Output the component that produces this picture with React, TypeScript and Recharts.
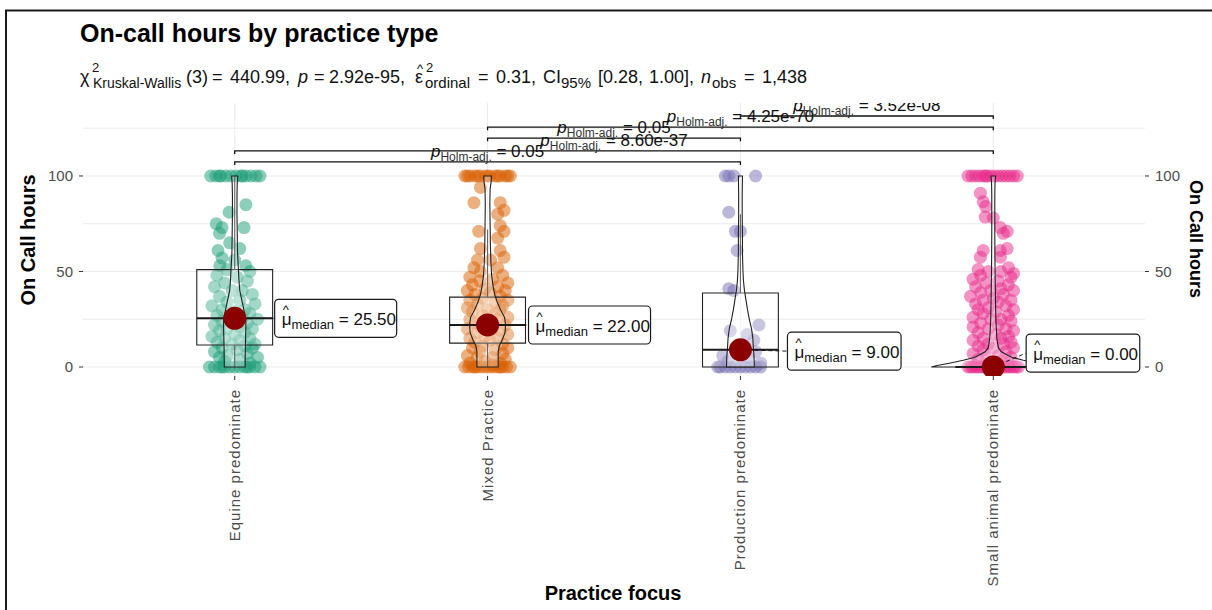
import React from "react";
import { ComposedChart, XAxis, YAxis, Scatter } from "recharts";

const FONT = "'Liberation Sans', Arial, Helvetica, sans-serif";

// ---------- data ----------
const categories = [
  "Equine predominate",
  "Mixed Practice",
  "Production predominate",
  "Small animal predominate",
];
const groupColors = ["#1B9E77", "#D95F02", "#7570B3", "#E7298A"];

// [value, jitter (x units)]
const equinePoints: [number, number][] = [
  [100, -0.095], [100, -0.075], [100, -0.055], [100, -0.035], [100, -0.015], [100, 0.005], [100, 0.025],
  [100, 0.045], [100, 0.065], [100, 0.085], [100, -0.06], [100, 0.03], [100, 0.1],
  [85, 0.044], [81, -0.022], [75, -0.073], [73, -0.05], [73, 0.037], [70, -0.06], [65, -0.02], [62, 0.02],
  [61, -0.066], [57, -0.05], [56, 0.0], [53, 0.044], [53, -0.059], [51, -0.03], [50, 0.06],
  [48, -0.07], [47, 0.01], [45, 0.05], [44, -0.04], [42, -0.08], [40, 0.03], [40, -0.01], [38, 0.07],
  [37, -0.06], [35, 0.02], [34, -0.03], [33, 0.08], [32, -0.09], [30, 0.04], [30, -0.05], [29, 0.0],
  [28, 0.06], [27, -0.07], [26, 0.03], [25, -0.02], [25, 0.09], [24, -0.05], [23, 0.05], [22, -0.08],
  [21, 0.02], [20, -0.03], [20, 0.07], [19, -0.06], [18, 0.04], [17, 0.0], [16, -0.09], [15, 0.06],
  [15, -0.04], [14, 0.02], [13, -0.07], [12, 0.08], [12, -0.01], [11, 0.04], [10, -0.05], [10, 0.07],
  [9, 0.01], [8, -0.08], [7, 0.05], [6, -0.03], [5, 0.09], [5, -0.06], [4, 0.02], [3, -0.04], [2, 0.06],
  [0, -0.1], [0, -0.08], [0, -0.06], [0, -0.04], [0, -0.02], [0, 0.0], [0, 0.02], [0, 0.04], [0, 0.06],
  [0, 0.08], [0, 0.1], [0, -0.05], [0, 0.05],
];

const mixedPoints: [number, number][] = [
  [100, -0.09], [100, -0.07], [100, -0.05], [100, -0.03], [100, -0.01], [100, 0.01], [100, 0.03],
  [100, 0.05], [100, 0.07], [100, 0.09], [100, -0.08], [100, -0.04], [100, 0.0], [100, 0.04], [100, 0.08],
  [94, -0.028], [86, -0.054], [86, 0.05], [82, 0.065], [80, 0.04], [74, 0.05], [71, -0.035], [71, 0.065],
  [67.5, 0.04], [62, -0.028], [61, 0.05], [57.5, 0.065], [56, 0.012], [56, -0.04], [52, -0.054],
  [52, 0.04], [50, -0.028],
  [48, 0.06], [47, -0.07], [46, 0.02], [45, -0.03], [44, 0.08], [43, -0.06], [42, 0.04], [41, -0.01],
  [40, 0.07], [40, -0.08], [39, 0.01], [38, -0.05], [37, 0.05], [36, -0.02], [35, 0.08], [35, -0.07],
  [34, 0.03], [33, -0.04], [32, 0.06], [31, -0.08], [30, 0.0], [30, 0.05], [29, -0.06], [28, 0.03],
  [27, -0.02], [26, 0.08], [25, -0.07], [25, 0.04], [24, 0.0], [23, -0.05], [22, 0.07], [21, -0.03],
  [20, 0.02], [20, -0.08], [19, 0.05], [18, -0.04], [17, 0.08], [16, -0.01], [15, 0.04], [15, -0.07],
  [14, 0.01], [13, -0.05], [12, 0.06], [11, -0.02], [10, 0.08], [10, -0.06], [9, 0.03], [8, -0.03],
  [7, 0.06], [6, -0.08], [5, 0.02], [5, -0.04], [4, 0.07], [3, -0.01], [2, 0.05], [2, -0.07], [1, 0.02],
  [0, -0.09], [0, -0.075], [0, -0.06], [0, -0.045], [0, -0.03], [0, -0.015], [0, 0.0], [0, 0.015],
  [0, 0.03], [0, 0.045], [0, 0.06], [0, 0.075], [0, 0.09], [0, -0.05], [0, 0.05],
];

const productionPoints: [number, number][] = [
  [100, -0.06], [100, -0.046], [100, -0.026], [100, 0.06], [81, -0.046], [71, -0.02], [71, 0.0],
  [61, -0.013], [41, -0.046], [40, -0.026], [22, 0.073], [19, -0.04], [17, 0.026], [14, 0.053],
  [10, -0.02], [8, 0.06], [6, -0.07], [5, 0.03], [3, -0.05], [2, 0.08],
  [0, -0.08], [0, -0.06], [0, -0.04], [0, -0.02], [0, 0.0], [0, 0.02], [0, 0.04], [0, 0.06], [0, 0.08],
  [0, -0.09],
];

const smallAnimalPoints: [number, number][] = [
  [100, -0.1], [100, -0.085], [100, -0.07], [100, -0.055], [100, -0.04], [100, -0.025], [100, -0.01],
  [100, 0.005], [100, 0.02], [100, 0.035], [100, 0.05], [100, 0.065], [100, 0.08], [100, 0.095],
  [100, -0.03],
  [91, -0.051], [86.5, -0.04], [84, -0.03], [78.5, -0.032], [78, 0.0], [73, 0.028], [71, 0.055],
  [70, 0.04], [61, -0.04], [61, 0.028], [62, 0.055], [57.5, -0.051], [57.5, 0.028], [52, 0.06],
  [51, -0.06], [50, -0.02], [50, 0.03], [49, 0.08],
  [48, -0.05], [47, 0.07], [46, -0.08], [45, 0.02], [44, -0.03], [43, 0.06], [42, -0.07], [41, 0.03],
  [40, -0.01], [40, 0.08], [39, -0.05], [38, 0.04], [37, -0.09], [36, 0.0], [35, 0.07], [35, -0.04],
  [34, 0.02], [33, -0.07], [32, 0.05], [31, -0.02], [30, 0.08], [30, -0.06], [29, 0.01], [28, -0.04],
  [27, 0.06], [26, -0.08], [25, 0.03], [25, -0.01], [24, 0.07], [23, -0.05], [22, 0.02], [21, -0.08],
  [20, 0.05], [20, -0.02], [19, 0.08], [18, -0.06], [17, 0.01], [16, 0.06], [15, -0.04], [15, 0.03],
  [14, -0.08], [13, 0.07], [12, -0.02], [12, 0.04], [11, -0.06], [10, 0.0], [10, 0.08], [9, -0.04],
  [8, 0.05], [7, -0.08], [6, 0.02], [5, -0.03], [5, 0.07], [4, -0.06], [3, 0.03], [2, -0.01], [2, 0.06],
  [1, -0.07],
  [0, -0.1], [0, -0.09], [0, -0.08], [0, -0.07], [0, -0.06], [0, -0.05], [0, -0.04], [0, -0.03],
  [0, -0.02], [0, -0.01], [0, 0.0], [0, 0.01], [0, 0.02], [0, 0.03], [0, 0.04], [0, 0.05], [0, 0.06],
  [0, 0.07], [0, 0.08], [0, 0.09], [0, 0.1],
];

const groupPoints = [equinePoints, mixedPoints, productionPoints, smallAnimalPoints];

// violin outlines: [value, half width in x units]
const violinEquine: [number, number][] = [
  [0, 0.041], [10, 0.042], [20, 0.044], [25, 0.044], [30, 0.036], [35, 0.028], [40, 0.02], [45, 0.017],
  [50, 0.015], [60, 0.011], [70, 0.01], [80, 0.009], [90, 0.009], [96, 0.01], [100, 0.012],
];
const violinMixed: [number, number][] = [
  [0, 0.042], [8, 0.042], [11, 0.046], [14, 0.057], [18, 0.069], [22, 0.071], [26, 0.067], [30, 0.051],
  [34, 0.038], [38, 0.028], [42, 0.022], [48, 0.016], [55, 0.013], [65, 0.011], [75, 0.01], [85, 0.009],
  [93, 0.01], [97, 0.014], [100, 0.015],
];
const violinProduction: [number, number][] = [
  [0, 0.055], [5, 0.054], [10, 0.051], [15, 0.049], [20, 0.044], [25, 0.035], [30, 0.028], [35, 0.022],
  [40, 0.016], [45, 0.012], [50, 0.01], [60, 0.008], [70, 0.008], [80, 0.007], [90, 0.007], [100, 0.008],
];
const violinSmallAnimal: [number, number][] = [
  [0, 0.245], [0.8, 0.222], [2, 0.174], [3.5, 0.119], [5, 0.075], [6.6, 0.051], [8, 0.032], [10, 0.02],
  [15, 0.014], [25, 0.01], [40, 0.008], [50, 0.007], [70, 0.006], [90, 0.006], [97, 0.007], [100, 0.009],
];
const violins = [violinEquine, violinMixed, violinProduction, violinSmallAnimal];

const q1Values = [11.5, 12.5, 0, 0];
const medianValues = [25.5, 22, 9, 0];
const q3Values = [51, 36.6, 38.7, 0];
const whiskerLow = [0, 0, 0, 0];
const whiskerHigh = [100, 72, 80, 0];
const medianLabelText = ["25.50", "22.00", "9.00", "0.00"];
const medianLabelY = [25.5, 22, 8.3, 7.3];

const bracketFrom = [1, 1, 2, 2, 3];
const bracketTo = [3, 4, 3, 4, 4];
const bracketY = [107.4, 113.1, 119.8, 125.6, 131.4];
const bracketP = ["0.05", "8.60e-37", "0.05", "4.25e-70", "3.52e-08"];

const gridY = [0, 25, 50, 75, 100, 125];
const yTicks = [0, 50, 100];
const xTicks = [1, 2, 3, 4];

// ---------- layout constants ----------
const BOX_HALF = 0.15;
const LABEL_DX = [0.158, 0.162, 0.186, 0.13];
const TIP = 1.6;
const PT_R = 6.5;
const X_DOMAIN: [number, number] = [0.4, 4.6];
const Y_DOMAIN: [number, number] = [-4.71, 138.2];

// ---------- helpers ----------
const noShape = () => <g />;

const polyLine =
  (stroke: string, fill: string, fillOpacity: number, strokeWidth: number, closed: boolean, dash?: string) =>
  (p: any) => {
    const pts = (p && p.points) || [];
    if (!pts.length) return <g />;
    const d = pts.map((q: any, i: number) => `${i ? "L" : "M"}${q.x},${q.y}`).join("") + (closed ? "Z" : "");
    return (
      <path
        d={d}
        fill={closed ? fill : "none"}
        fillOpacity={fillOpacity}
        stroke={stroke}
        strokeWidth={strokeWidth}
        strokeDasharray={dash}
        strokeLinejoin="miter"
      />
    );
  };

const CatTick = (props: any) => {
  const { x, y, payload } = props;
  return (
    <text
      transform={`translate(${x + 5},${y + 7}) rotate(-90)`}
      textAnchor="end"
      fontSize={15}
      letterSpacing={1}
      fill="#4D4D4D"
      fontFamily={FONT}
    >
      {categories[payload.value - 1]}
    </text>
  );
};

const MedianLabel = (props: any) => {
  const { cx, cy, payload } = props;
  const txt = payload.text as string;
  const w = 80 + 8.4 * txt.length;
  const h = 38;
  return (
    <g>
      <rect x={cx} y={cy - h / 2} width={w} height={h} rx={4} ry={4} fill="#fff" stroke="#1a1a1a" strokeWidth={1.2} />
      <text x={cx + 7} y={cy + 7} fontSize={17} fontFamily={FONT} fill="#111">
        <tspan>μ</tspan>
        <tspan fontSize={13} dy={4}>median</tspan>
        <tspan dy={-4}>{" = " + txt}</tspan>
      </text>
      <text x={cx + 8} y={cy - 4} fontSize={13} fontFamily={FONT} fill="#111">^</text>
    </g>
  );
};

const BracketLabel = (props: any) => {
  const { cx, cy, payload } = props;
  return (
    <text x={cx} y={cy - 5} textAnchor="middle" fontSize={17} fontFamily={FONT} fill="#111">
      <tspan fontStyle="italic">p</tspan>
      <tspan fontSize={12} dy={4} fill="#333">Holm-adj.</tspan>
      <tspan dy={-4}>{" = " + payload.text}</tspan>
    </text>
  );
};

const SUB_Y = 88;
const MAIN_Y = 83;

export default function App() {
  const pointSeries = groupPoints.map((pts, gi) =>
    pts.map(([v, j]) => ({ x: gi + 1 + j, y: v }))
  );

  const gridH = gridY.map((v) => [
    { x: X_DOMAIN[0], y: v },
    { x: X_DOMAIN[1], y: v },
  ]);
  const gridV = xTicks.map((c) => [
    { x: c, y: Y_DOMAIN[0] },
    { x: c, y: Y_DOMAIN[1] },
  ]);

  const boxSeries = categories.map((_, i) => {
    const c = i + 1;
    return [
      { x: c - BOX_HALF, y: q1Values[i] },
      { x: c + BOX_HALF, y: q1Values[i] },
      { x: c + BOX_HALF, y: q3Values[i] },
      { x: c - BOX_HALF, y: q3Values[i] },
    ];
  });

  const violinSeries = violins.map((prof, i) => {
    const c = i + 1;
    const right = prof.map(([v, hw]) => ({ x: c + hw, y: v }));
    const left = [...prof].reverse().map(([v, hw]) => ({ x: c - hw, y: v }));
    return [...right, ...left];
  });

  const medianPts = categories.map((_, i) => ({ x: i + 1, y: medianValues[i] }));
  const labelPts = categories.map((_, i) => ({
    x: i + 1 + LABEL_DX[i],
    y: medianLabelY[i],
    text: medianLabelText[i],
  }));

  const bracketLines = bracketFrom.map((f, i) => [
    { x: f, y: bracketY[i] - TIP },
    { x: f, y: bracketY[i] },
    { x: bracketTo[i], y: bracketY[i] },
    { x: bracketTo[i], y: bracketY[i] - TIP },
  ]);
  const bracketLabels = bracketFrom.map((f, i) => ({
    x: (f + bracketTo[i]) / 2,
    y: bracketY[i],
    text: bracketP[i],
  }));

  const lineSeries = (key: string, data: any[], render: any) => (
    <Scatter
      key={key}
      xAxisId="x"
      yAxisId="l"
      data={data}
      isAnimationActive={false}
      shape={noShape}
      line={render}
    />
  );

  return (
    <div style={{ position: "absolute", left: 0, top: 0, width: 1212, height: 610, background: "#fff" }}>
      <ComposedChart width={1212} height={610} margin={{ top: 103, right: 0, bottom: 0, left: 0 }}>
        <XAxis
          xAxisId="x"
          type="number"
          dataKey="x"
          domain={X_DOMAIN}
          ticks={xTicks}
          allowDataOverflow
          height={234}
          axisLine={false}
          tickLine={{ stroke: "#333" }}
          tickSize={4}
          tick={<CatTick />}
          interval={0}
        />
        <YAxis
          yAxisId="l"
          type="number"
          dataKey="y"
          domain={Y_DOMAIN}
          ticks={yTicks}
          allowDataOverflow
          width={83}
          axisLine={false}
          tickLine={{ stroke: "#333" }}
          tickSize={4}
          tickMargin={6}
          tick={{ fill: "#4D4D4D", fontSize: 15, fontFamily: FONT }}
          interval={0}
        />
        <YAxis
          yAxisId="r"
          orientation="right"
          type="number"
          dataKey="y"
          domain={Y_DOMAIN}
          ticks={yTicks}
          allowDataOverflow
          width={67}
          axisLine={false}
          tickLine={{ stroke: "#333" }}
          tickSize={4}
          tickMargin={6}
          tick={{ fill: "#4D4D4D", fontSize: 15, fontFamily: FONT }}
          interval={0}
        />

        {gridH.map((d, i) => lineSeries(`gh${i}`, d, polyLine("#EBEBEB", "none", 0, 1, false)))}
        {gridV.map((d, i) => lineSeries(`gv${i}`, d, polyLine("#EBEBEB", "none", 0, 1, false)))}

        {pointSeries.map((data, gi) => (
          <Scatter
            key={`pts${gi}`}
            xAxisId="x"
            yAxisId="l"
            data={data}
            isAnimationActive={false}
            shape={(p: any) => (
              <circle cx={p.cx} cy={p.cy} r={PT_R} fill={groupColors[gi]} fillOpacity={0.5} />
            )}
          />
        ))}

        {boxSeries.map((d, i) => lineSeries(`box${i}`, d, polyLine("#222", "#fff", 0.2, 1.1, true)))}

        {categories.map((_, i) =>
          lineSeries(
            `wh${i}`,
            [
              { x: i + 1, y: q3Values[i] },
              { x: i + 1, y: whiskerHigh[i] },
            ],
            polyLine("#222", "none", 0, 1.1, false)
          )
        )}
        {categories.map((_, i) =>
          lineSeries(
            `wl${i}`,
            [
              { x: i + 1, y: q1Values[i] },
              { x: i + 1, y: whiskerLow[i] },
            ],
            polyLine("#222", "none", 0, 1.1, false)
          )
        )}

        {violinSeries.map((d, i) => lineSeries(`vio${i}`, d, polyLine("#222", "#fff", 0.3, 1.1, true)))}

        {categories.map((_, i) =>
          lineSeries(
            `med${i}`,
            [
              { x: i + 1 - BOX_HALF, y: medianValues[i] },
              { x: i + 1 + BOX_HALF, y: medianValues[i] },
            ],
            polyLine("#1a1a1a", "none", 0, 2, false)
          )
        )}

        {categories.map((_, i) =>
          lineSeries(
            `con${i}`,
            [
              { x: i + 1, y: medianValues[i] },
              { x: i + 1 + LABEL_DX[i], y: medianLabelY[i] },
            ],
            polyLine("#1a1a1a", "none", 0, 1, false, "4 3")
          )
        )}

        <Scatter
          xAxisId="x"
          yAxisId="l"
          data={medianPts}
          isAnimationActive={false}
          shape={(p: any) => <circle cx={p.cx} cy={p.cy} r={11.5} fill="#8B0000" />}
        />

        <Scatter
          xAxisId="x"
          yAxisId="l"
          data={labelPts}
          isAnimationActive={false}
          shape={(p: any) => <MedianLabel {...p} />}
        />

        {bracketLines.map((d, i) => lineSeries(`br${i}`, d, polyLine("#111", "none", 0, 1.3, false)))}
        <Scatter
          xAxisId="x"
          yAxisId="l"
          data={bracketLabels}
          isAnimationActive={false}
          shape={(p: any) => <BracketLabel {...p} />}
        />
      </ComposedChart>

      <svg
        width={1212}
        height={610}
        style={{ position: "absolute", left: 0, top: 0, pointerEvents: "none" }}
        fontFamily={FONT}
      >
        <path d="M6,610 V10.5 H1212" fill="none" stroke="#1a1a1a" strokeWidth={2} />
        <text x={80} y={42} fontSize={25} fontWeight="bold" fill="#000">
          On-call hours by practice type
        </text>
        <g fill="#111" fontSize={18}>
          <text x={80} y={MAIN_Y}>χ</text>
          <text x={92} y={72} fontSize={13}>2</text>
          <text x={93} y={SUB_Y} fontSize={14}>Kruskal-Wallis</text>
          <text x={186} y={MAIN_Y}>(3)</text>
          <text x={212} y={MAIN_Y}>=</text>
          <text x={230} y={MAIN_Y}>440.99,</text>
          <text x={298} y={MAIN_Y} fontStyle="italic">p</text>
          <text x={314} y={MAIN_Y}>=</text>
          <text x={329} y={MAIN_Y}>2.92e-95,</text>
          <text x={415} y={MAIN_Y}>ε</text>
          <text x={417} y={73} fontSize={13}>^</text>
          <text x={426} y={72} fontSize={13}>2</text>
          <text x={425} y={SUB_Y} fontSize={15}>ordinal</text>
          <text x={478} y={MAIN_Y}>=</text>
          <text x={496} y={MAIN_Y}>0.31,</text>
          <text x={543} y={MAIN_Y}>CI</text>
          <text x={561} y={SUB_Y} fontSize={15}>95%</text>
          <text x={598} y={MAIN_Y}>[0.28,</text>
          <text x={649} y={MAIN_Y}>1.00],</text>
          <text x={701} y={MAIN_Y} fontStyle="italic">n</text>
          <text x={712} y={SUB_Y} fontSize={15}>obs</text>
          <text x={744} y={MAIN_Y}>=</text>
          <text x={762} y={MAIN_Y}>1,438</text>
        </g>
        <text transform="translate(35,240) rotate(-90)" textAnchor="middle" fontSize={20} fontWeight="bold" fill="#000">
          On Call hours
        </text>
        <text transform="translate(1190,239) rotate(90)" textAnchor="middle" fontSize={18} fontWeight="bold" fill="#000">
          On Call hours
        </text>
        <text x={613} y={600} textAnchor="middle" fontSize={20} fontWeight="bold" fill="#000">
          Practice focus
        </text>
      </svg>
    </div>
  );
}
